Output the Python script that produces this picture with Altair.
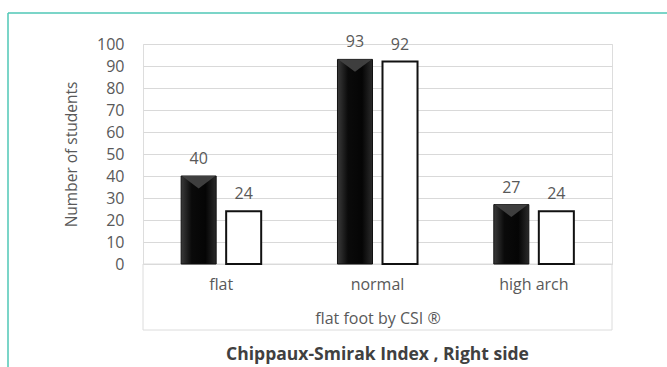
import altair as alt
import pandas as pd

# Chippaux-Smirak Index (right side): students per foot category, two groups
categories = ["flat", "normal", "high arch"]
series = ["group 1", "group 2"]
group1_values = [40, 93, 27]
group2_values = [24, 92, 24]
y_ticks = [0, 10, 20, 30, 40, 50, 60, 70, 80, 90, 100]
chart_title = "Chippaux-Smirak Index , Right side"

rows = []
for cat, a, b in zip(categories, group1_values, group2_values):
    rows.append({"category": cat, "series": series[0], "value": a})
    rows.append({"category": cat, "series": series[1], "value": b})
df = pd.DataFrame(rows)

W, H = 469, 220
FONT = "Open Sans"
GRAY = "#595959"

x_enc = alt.X(
    "category:N",
    sort=categories,
    scale=alt.Scale(paddingInner=0.488, paddingOuter=0.244),
    axis=alt.Axis(
        title="flat foot by CSI ®",
        labelAngle=0,
        labelFont=FONT,
        labelFontSize=16,
        labelColor=GRAY,
        labelPadding=12,
        titleFont=FONT,
        titleFontSize=16,
        titleFontWeight="normal",
        titleColor=GRAY,
        titlePadding=18,
        domain=False,
        ticks=False,
    ),
)
xoff_enc = alt.XOffset(
    "series:N",
    scale=alt.Scale(domain=series, paddingInner=0.222, paddingOuter=0),
)
y_enc = alt.Y(
    "value:Q",
    scale=alt.Scale(domain=[0, 100]),
    axis=alt.Axis(
        values=y_ticks,
        title="Number of students",
        labelFont=FONT,
        labelFontSize=16,
        labelColor=GRAY,
        labelPadding=19,
        titleFont=FONT,
        titleFontSize=15.5,
        titleFontWeight="normal",
        titleColor=GRAY,
        titlePadding=17,
        domain=False,
        ticks=False,
        grid=True,
        gridColor="#d9d9d9",
        gridWidth=1,
    ),
)

base = alt.Chart(df).encode(x=x_enc, xOffset=xoff_enc, y=y_enc)

dark_fill = alt.Gradient(
    gradient="linear",
    x1=0, x2=1, y1=0, y2=0,
    stops=[
        alt.GradientStop(offset=0, color="#3a3a3a"),
        alt.GradientStop(offset=0.3, color="#0a0a0a"),
        alt.GradientStop(offset=0.7, color="#050505"),
        alt.GradientStop(offset=1, color="#2a2a2a"),
    ],
)

dark_bars = base.transform_filter(alt.datum.series == series[0]).mark_bar(
    fill=dark_fill, stroke="#111111", strokeWidth=1
)
# bevel on top of the dark bars
bevel = base.transform_filter(alt.datum.series == series[0]).mark_point(
    shape="M-1,0 L1,0 L0,0.75 Z",
    size=1100,
    filled=True,
    fill="#454545",
    opacity=0.9,
    strokeWidth=0,
)
light_bars = base.transform_filter(alt.datum.series == series[1]).mark_bar(
    fill="white", stroke="#111111", strokeWidth=2
)
labels = base.mark_text(
    baseline="alphabetic", dy=-12, font=FONT, fontSize=16, color=GRAY
).encode(text="value:Q")

one = pd.DataFrame({"k": [0]})

# box around the category axis area
axis_box = alt.Chart(one).mark_rect(
    fill=None, stroke="#dcdcdc", strokeWidth=1, clip=False
).encode(
    x=alt.value(0), x2=alt.value(W), y=alt.value(H), y2=alt.value(H + 66)
)

# chart caption below the axis box
caption = alt.Chart(one).mark_text(
    text=chart_title,
    font=FONT,
    fontSize=17.5,
    fontWeight="bold",
    color="#404040",
    baseline="middle",
    align="center",
).encode(x=alt.value(W / 2), y=alt.value(H + 91))

# teal frame lines
frame_left = alt.Chart(one).mark_rule(
    color="#4fc7b6", strokeWidth=1.5, clip=False
).encode(x=alt.value(-135), y=alt.value(-31), y2=alt.value(H + 110))
frame_top = alt.Chart(one).mark_rule(
    color="#4fc7b6", strokeWidth=1.5, clip=False
).encode(x=alt.value(-135), x2=alt.value(W + 60), y=alt.value(-31))

chart = (
    alt.layer(axis_box, dark_bars, bevel, light_bars, labels, caption,
              frame_left, frame_top)
    .properties(
        width=W,
        height=H,
        autosize=alt.AutoSizeParams(type="none"),
        padding={"left": 143, "top": 44, "right": 55, "bottom": 103},
    )
    .configure_view(stroke=None)
    .configure(background="white")
)

chart.save("out.html", embed_options={"renderer": "svg", "actions": False})
